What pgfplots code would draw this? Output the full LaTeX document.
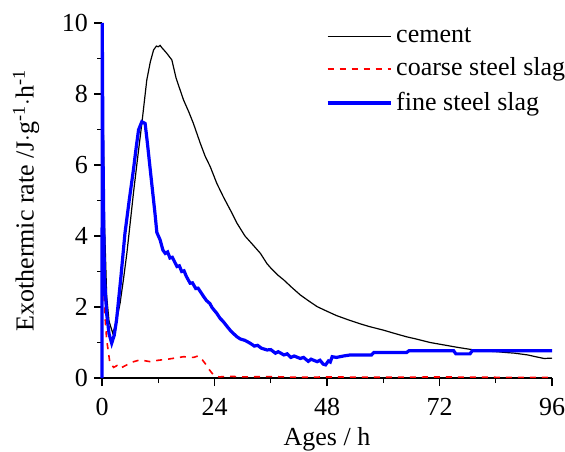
\documentclass[border=0pt]{standalone}
\usepackage{fontspec}
\setmainfont{Liberation Serif}
\usepackage{pgfplots}
\pgfplotsset{compat=1.18}
\newcommand\lf{\fontsize{13}{15.5}\selectfont}
\begin{document}
\lf
\begin{tikzpicture}[font=\lf]
\begin{axis}[
  scale only axis, width=225pt, height=177.5pt,
  xmin=0, xmax=96, ymin=0, ymax=10,
  axis lines*=left, axis line style={-, black, line width=0.6pt},
  xtick={0,24,48,72,96}, ytick={0,2,4,6,8,10},
  minor xtick={12,36,60,84}, minor ytick={1,3,5,7,9},
  tick align=outside, major tick length=4pt, minor tick length=2.5pt,
  tick style={black, line width=0.6pt},
  /pgf/number format/assume math mode=true,
  every tick label/.append style={font=\lf},
  xticklabel style={yshift=-1.5pt},
  yticklabel style={xshift=1.5pt},
  every axis label/.append style={font=\lf},
  xlabel={Ages / h}, ylabel={Exothermic rate /J$\cdot$g\textsuperscript{-1}$\cdot$h\textsuperscript{-1}},
  xlabel style={yshift=3pt}, ylabel style={yshift=2.5pt},
  clip=false,
  legend style={at={(1.039,1.0)}, anchor=north east, draw=none, fill=none,
    font=\lf, row sep=2pt, inner sep=0pt},
  legend cell align=left,
  legend image code/.code={\draw[#1] (0pt,0pt) -- (31.5pt,0pt);},
]
\addplot[black, line width=0.6pt] coordinates {
(0,0) (0.08,10) (0.2,8) (0.5,4.5) (1.0,2.3) (1.5,1.6) (2.3,1.26) (3.0,1.55) (3.85,2.1)
(4.6,2.8) (5.3,3.51) (6.0,4.35) (6.7,5.2) (7.6,6.2) (8.5,7.17) (9.55,8.39) (10.3,8.9)
(11,9.24) (11.6,9.35) (12,9.33) (12.4,9.37) (12.8,9.3) (13.8,9.15) (14.9,8.96)
(15.8,8.45) (16.7,8.1) (17.4,7.83) (18.5,7.5) (19.5,7.17) (21,6.6) (22,6.25) (23.1,5.95)
(24.5,5.48) (25.9,5.1) (27.5,4.7) (28.8,4.36) (30.5,4.0) (32,3.78) (33.8,3.51)
(35.2,3.22) (36,3.1) (37.5,2.9) (38.8,2.76) (40.5,2.55) (42.3,2.34) (44,2.18)
(45.9,2.01) (48,1.88) (50,1.76) (52.3,1.65) (55,1.53) (57,1.45) (60,1.35) (62.3,1.26)
(65,1.16) (67,1.1) (70,1.0) (73,0.93) (76,0.86) (79.4,0.79) (82,0.76) (84.4,0.74)
(86,0.72) (88,0.7) (90.8,0.65) (92.5,0.6) (94.3,0.55) (96,0.56)
};
\addplot[red, dashed, line width=0.8pt] coordinates {
(0,3.0) (0.3,2.85) (0.6,1.8) (1.0,1.07) (1.7,0.41) (2.5,0.3) (3.2,0.35) (3.85,0.27)
(5,0.35) (6.5,0.45) (8.1,0.51) (10.3,0.46) (12,0.5) (14,0.53) (15.5,0.56) (17.4,0.6)
(19.5,0.58) (20.5,0.62) (21,0.58) (22,0.41) (22.8,0.25) (23.8,0.08) (25,0.03) (27,0.05)
(30,0.03) (36,0.04) (42,0.02) (48,0.03) (60,0.02) (72,0.03) (84,0.02) (96,0.02)
};
\addplot[blue, line width=1.6pt] coordinates {
(0,0) (0.05,10) (0.2,6.5) (0.5,2.9) (1.0,1.8) (1.5,1.25) (2.07,0.98) (2.6,1.2)
(3.1,1.63) (4.0,2.8) (4.9,4.08) (5.8,5.0) (6.7,5.86) (7.3,6.5) (7.8,6.99) (8.5,7.22)
(9.2,7.17) (9.7,6.6) (10.3,5.86) (11.3,4.64) (11.7,4.1) (12.4,3.89) (13.0,3.6)
(13.5,3.51) (14.0,3.55) (14.5,3.38) (15.0,3.4) (16,3.14) (16.5,3.16) (17,3.0)
(17.5,3.02) (18.0,2.86) (18.8,2.67) (19.3,2.68) (20,2.52) (20.5,2.53) (21.7,2.29)
(22.3,2.18) (23,2.1) (23.5,1.98) (24.5,1.82) (25.2,1.68) (25.8,1.6) (26.7,1.45)
(27.5,1.32) (28.8,1.16) (29.5,1.1) (30.5,1.06) (31.6,0.98) (32.5,0.9) (33.2,0.92)
(34,0.84) (35.2,0.79) (36,0.8) (37,0.7) (37.6,0.74) (38.8,0.65) (39.5,0.68)
(40.3,0.58) (41,0.62) (42.3,0.55) (43,0.58) (44,0.47) (44.6,0.53) (45.9,0.46)
(46.5,0.5) (47.2,0.39) (47.7,0.37) (48.3,0.48) (48.7,0.45) (49.1,0.6) (50,0.58)
(51.5,0.62) (53,0.65) (57.5,0.65) (58,0.72) (65,0.72) (65.5,0.77) (75,0.77)
(75.5,0.68) (78.5,0.68) (79,0.77) (96,0.77)
};
\legend{cement, coarse steel slag, fine steel slag}
\end{axis}
\pgfresetboundingbox
\useasboundingbox ([xshift=-51pt,yshift=-36.5pt]current axis.south west)
  rectangle ([xshift=6.5pt,yshift=11.5pt]current axis.north east);
\end{tikzpicture}
\end{document}
